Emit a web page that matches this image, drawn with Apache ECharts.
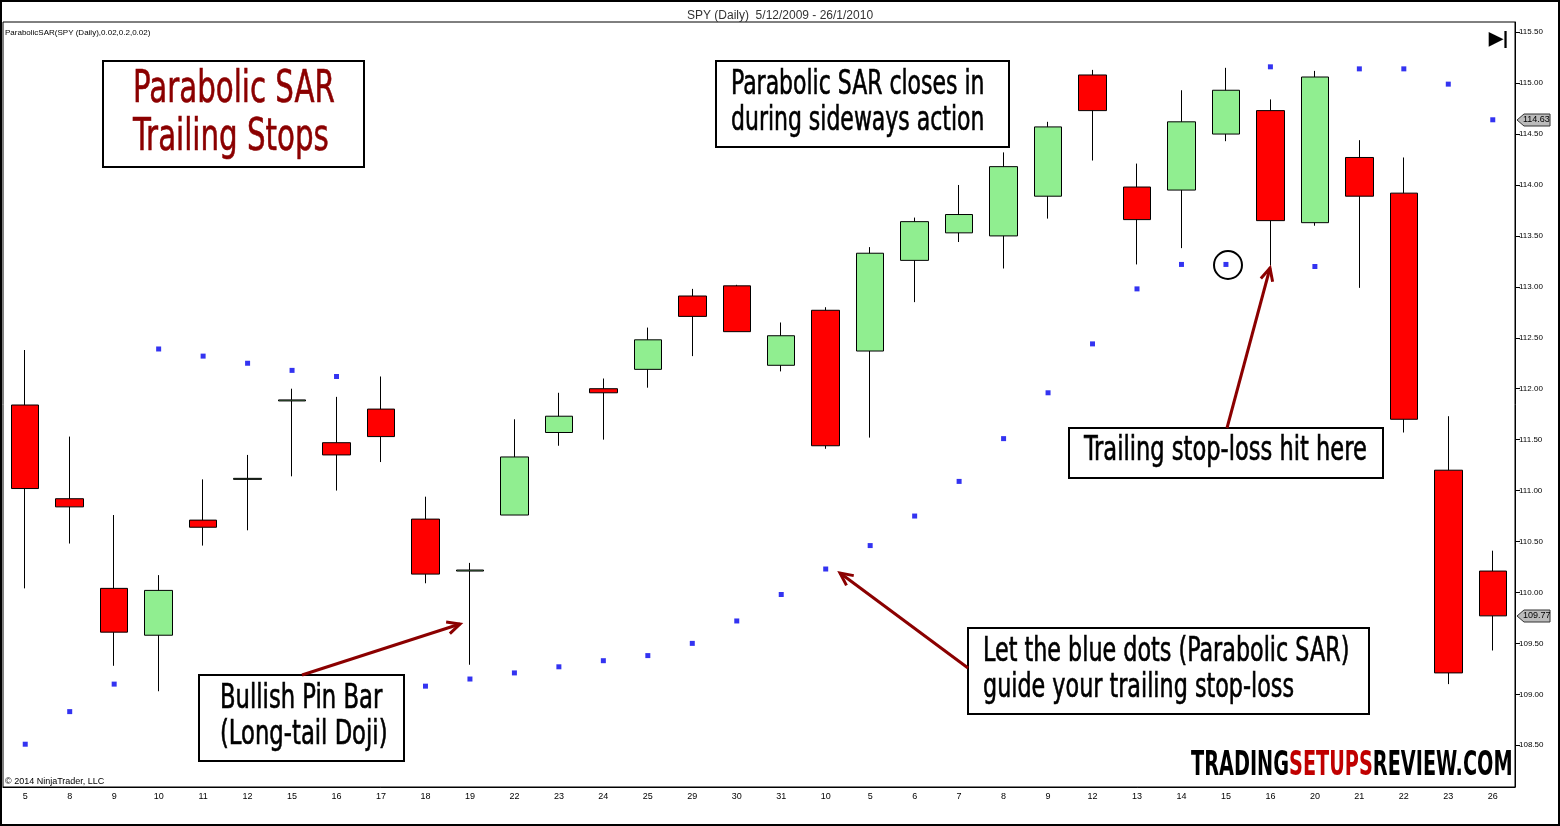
<!doctype html>
<html>
<head>
<meta charset="utf-8">
<script src="https://cdn.jsdelivr.net/npm/echarts@6/dist/echarts.min.js"></script>
<style>
	html, body { margin: 0; padding: 0; background: #fff; }
	#chart { width: 1560px; height: 826px; }
</style>
</head>
<body>
<div id="chart"></div>
<script type="text/javascript">
	var dates = ['5','8','9','10','11','12','15','16','17','18','19','22','23','24','25','29','30','31',
		'10','5','6','7','8','9','12','13','14','15','16','20','21','22','23','26'];
	// open, close, low, high
	var opens  = [111.84,110.92,110.04,109.58,110.71,111.11,111.88,111.47,111.80,110.72,110.21,110.76,111.57,112.00,112.19,112.91,113.01,112.23,
		112.77,112.37,113.26,113.53,113.50,113.89,115.08,113.98,113.95,114.50,114.73,113.63,114.27,113.92,111.20,110.21];
	var closes = [111.02,110.84,109.61,110.02,110.64,111.12,111.89,111.35,111.53,110.18,110.22,111.33,111.73,111.96,112.48,112.71,112.56,112.52,
		111.44,113.33,113.64,113.71,114.18,114.57,114.73,113.66,114.62,114.93,113.65,115.06,113.89,111.70,109.21,109.77];
	var lows   = [110.04,110.48,109.28,109.03,110.46,110.61,111.14,111.00,111.28,110.09,109.29,110.76,111.44,111.50,112.01,112.32,112.56,112.17,
		111.41,111.52,112.85,113.44,113.18,113.67,114.24,113.22,113.38,114.43,113.21,113.60,112.99,111.57,109.10,109.43];
	var highs  = [112.38,111.53,110.76,110.17,111.11,111.35,112.00,111.92,112.12,110.94,110.29,111.70,111.96,112.10,112.60,112.98,113.02,112.65,
		112.80,113.39,113.68,114.00,114.32,114.62,115.13,114.21,114.93,115.15,114.84,115.12,114.44,114.27,111.73,110.41];
	var sar = [108.51,108.83,109.10,112.39,112.32,112.25,112.18,112.12,null,109.08,109.15,109.21,109.27,109.33,109.38,109.50,109.72,109.98,
		110.23,110.46,110.75,111.09,111.51,111.96,112.44,112.98,113.22,113.22,115.16,113.20,115.14,115.14,114.99,114.64];
	var priceTicks = [108.5,109,109.5,110,110.5,111,111.5,112,112.5,113,113.5,114,114.5,115,115.5];

	var candles = [];
	for (var i = 0; i < dates.length; i++) {
		candles.push([opens[i], closes[i], lows[i], highs[i]]);
	}

	var font = '"Liberation Sans Narrow", "DejaVu Sans Condensed", "Liberation Sans", sans-serif';

	function box(x, y, w, h) {
		return { type: 'rect', shape: { x: x, y: y, width: w, height: h },
			style: { fill: '#fff', stroke: '#000', lineWidth: 2 }, z: 10 };
	}
	// text squeezed sideways to look like the condensed face of the original
	function label(x, y, txt, size, sx, color) {
		return { type: 'text', x: x, y: y, z: 11, scaleX: sx,
			style: { text: txt, font: size + 'px ' + font, fill: color || '#000', lineHeight: size * 1.1,
				stroke: color || '#000', lineWidth: 0.6 } };
	}
	function arrow(x1, y1, x2, y2) {
		var a = Math.atan2(y2 - y1, x2 - x1), L = 14, s = 0.45;
		return [
			{ type: 'line', z: 12, shape: { x1: x1, y1: y1, x2: x2, y2: y2 }, style: { stroke: '#8b0000', lineWidth: 3 } },
			{ type: 'polyline', z: 12, shape: { points: [
				[x2 - L * Math.cos(a - s), y2 - L * Math.sin(a - s)], [x2, y2],
				[x2 - L * Math.cos(a + s), y2 - L * Math.sin(a + s)]] },
				style: { stroke: '#8b0000', lineWidth: 3, fill: null } }
		];
	}

	var graphics = [
		{ type: 'rect', shape: { x: 1, y: 1, width: 1558, height: 824 }, style: { fill: null, stroke: '#000', lineWidth: 2 } },
		{ type: 'text', x: 5, y: 29, style: { text: 'ParabolicSAR(SPY (Daily),0.02,0.2,0.02)', font: '8px Arial', fill: '#000' } },
		{ type: 'text', x: 5, y: 777, style: { text: '\u00a9 2014 NinjaTrader, LLC', font: '9px Arial', fill: '#000' } },
		{ type: 'text', x: 1489, y: 30, style: { text: '\u25b6|', font: 'bold 18px Arial', fill: '#000' } },
		box(103, 61, 261, 106),
		label(133, 66, 'Parabolic SAR\nTrailing Stops', 44, 0.74, '#8b0000'),
		box(716, 61, 293, 86),
		label(731, 67, 'Parabolic SAR closes in\nduring sideways action', 33, 0.74),
		box(1069, 428, 314, 50),
		label(1084, 433, 'Trailing stop-loss hit here', 33, 0.76),
		box(968, 628, 401, 86),
		label(983, 634, 'Let the blue dots (Parabolic SAR)\nguide your trailing stop-loss', 33, 0.75),
		box(199, 675, 205, 86),
		label(220, 681, 'Bullish Pin Bar\n(Long-tail Doji)', 33, 0.765),
		{ type: 'text', x: 1191, y: 749, z: 11, scaleX: 0.63,
			style: { rich: { a: { font: 'bold 34px ' + font, fill: '#000' }, b: { font: 'bold 34px ' + font, fill: '#c00000' } },
			text: '{a|TRADING}{b|SETUPS}{a|REVIEW.COM}' } },
		{ type: 'circle', z: 12, shape: { cx: 1228, cy: 265, r: 14 }, style: { fill: null, stroke: '#000', lineWidth: 2 } },
		{ type: 'polygon', z: 5, shape: { points: [[1517, 120], [1524, 114], [1550, 114], [1550, 126], [1524, 126]] }, style: { fill: '#bbb', stroke: '#333' } },
		{ type: 'text', z: 6, x: 1523, y: 115, style: { text: '114.63', font: '9px Arial', fill: '#000' } },
		{ type: 'polygon', z: 5, shape: { points: [[1517, 616], [1524, 610], [1550, 610], [1550, 622], [1524, 622]] }, style: { fill: '#bbb', stroke: '#333' } },
		{ type: 'text', z: 6, x: 1523, y: 611, style: { text: '109.77', font: '9px Arial', fill: '#000' } }
	];
	graphics = graphics.concat(arrow(302, 675, 460, 624), arrow(968, 668, 840, 573), arrow(1227, 428, 1270, 268));

	var myChart = echarts.init(document.getElementById('chart'));
	var option = {
		animation: false,
		backgroundColor: '#fff',
		title: {
			text: 'SPY (Daily)  5/12/2009 - 26/1/2010',
			left: 'center', top: 5,
			textStyle: { fontSize: 12, fontWeight: 'normal', color: '#333', fontFamily: 'Arial' }
		},
		grid: { left: 3, right: 45, top: 22, bottom: 39, show: true, borderColor: '#000', borderWidth: 1 },
		xAxis: {
			type: 'category',
			data: dates,
			boundaryGap: true,
			axisLine: { lineStyle: { color: '#000' } },
			axisTick: { alignWithLabel: true, lineStyle: { color: '#000' } },
			axisLabel: { fontSize: 9, color: '#000', interval: 0, margin: 5 },
			splitLine: { show: false }
		},
		yAxis: {
			type: 'value',
			position: 'right',
			min: 108.09, max: 115.6,
			axisLine: { show: true, lineStyle: { color: '#000' } },
			axisTick: { show: true, customValues: priceTicks, lineStyle: { color: '#000' } },
			axisLabel: { fontSize: 8, color: '#000', customValues: priceTicks, margin: 4,
				formatter: function (v) { return v.toFixed(2); } },
			splitLine: { show: false }
		},
		series: [{
			type: 'candlestick',
			data: candles,
			barWidth: 28,
			itemStyle: { color: '#90ee90', color0: '#ff0000', borderColor: '#000', borderColor0: '#000', borderWidth: 1 }
		}, {
			type: 'scatter',
			data: sar,
			symbol: 'rect',
			symbolSize: 5,
			itemStyle: { color: '#0000ee' }
		}],
		graphic: graphics
	};
	myChart.setOption(option);
</script>
</body>
</html>
